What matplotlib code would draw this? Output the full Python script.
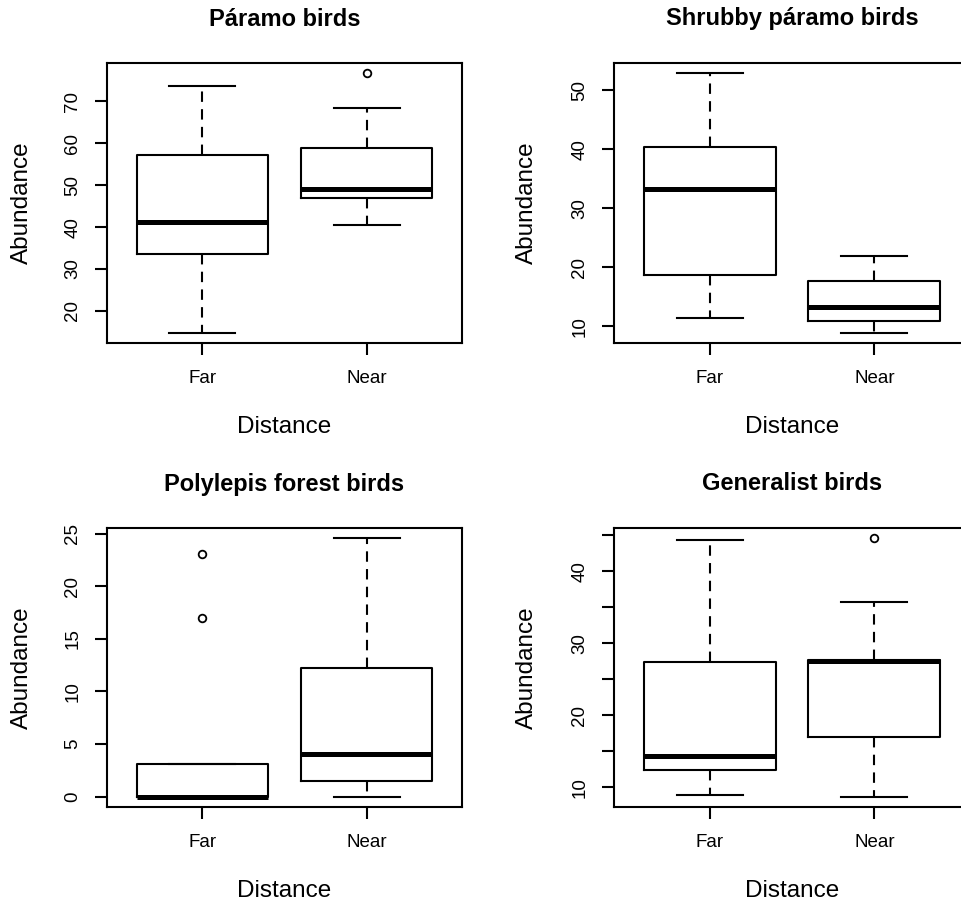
import matplotlib
matplotlib.use("Agg")
import matplotlib.pyplot as plt

plt.rcParams['font.family'] = ['Liberation Sans', 'DejaVu Sans']

groups = ["Far", "Near"]
titles = ["Páramo birds", "Shrubby páramo birds", "Polylepis forest birds", "Generalist birds"]

# five-number summaries per panel: [whislo, q1, med, q3, whishi]
paramo_far = [14.8, 33.5, 41.3, 57.3, 73.7]
paramo_near = [40.5, 46.9, 49.1, 58.9, 68.4]
paramo_fliers = [[], [76.7]]

shrub_far = [11.3, 18.7, 33.3, 40.4, 52.9]
shrub_near = [8.9, 10.8, 13.2, 17.7, 21.9]
shrub_fliers = [[], []]

poly_far = [0.0, 0.0, 0.0, 3.1, 3.1]
poly_near = [0.0, 1.45, 4.1, 12.2, 24.55]
poly_fliers = [[23.1, 17.0], []]

gen_far = [8.9, 12.35, 14.4, 27.45, 44.4]
gen_near = [8.7, 16.95, 27.5, 27.75, 35.7]
gen_fliers = [[], [44.6]]

yticks = [
    [20, 30, 40, 50, 60, 70],
    [10, 20, 30, 40, 50],
    [0, 5, 10, 15, 20, 25],
    [10, 15, 20, 25, 30, 35, 40, 45],
]
ytick_labels = [
    ["20", "30", "40", "50", "60", "70"],
    ["10", "20", "30", "40", "50"],
    ["0", "5", "10", "15", "20", "25"],
    ["10", "", "20", "", "30", "", "40", ""],
]

panels = [
    (paramo_far, paramo_near, paramo_fliers),
    (shrub_far, shrub_near, shrub_fliers),
    (poly_far, poly_near, poly_fliers),
    (gen_far, gen_near, gen_fliers),
]

W, H = 961, 909
fig = plt.figure(figsize=(W / 100, H / 100), dpi=100)

# axes boxes in pixels: left, right, top, bottom
boxes_px = [
    (107, 462, 63, 343),
    (614, 970, 63, 343),
    (107, 462, 528, 807),
    (614, 970, 528, 807),
]

lw = 1.5
for i, ((far, near, fl), (l, r, t, b)) in enumerate(zip(panels, boxes_px)):
    ax = fig.add_axes([l / W, 1 - b / H, (r - l) / W, (b - t) / H])
    stats = []
    for name, s, f in zip(groups, (far, near), fl):
        stats.append(dict(label=name, whislo=s[0], q1=s[1], med=s[2], q3=s[3], whishi=s[4], fliers=f))
    ax.bxp(stats, positions=[1, 2], widths=0.8, showfliers=True,
           boxprops=dict(color='black', linewidth=lw),
           medianprops=dict(color='black', linewidth=3.6, solid_capstyle='butt'),
           whiskerprops=dict(color='black', linewidth=lw, linestyle=(0, (5, 3.5))),
           capprops=dict(color='black', linewidth=lw),
           capwidths=0.4,
           flierprops=dict(marker='o', markerfacecolor='none', markeredgecolor='black',
                           markersize=5.5, markeredgewidth=1.3))
    ax.set_xlim(0.42, 2.58)
    ax.margins(y=0.04)
    ax.set_yticks(yticks[i], ytick_labels[i])
    ax.set_xticks([1, 2], groups)
    for sp in ax.spines.values():
        sp.set_linewidth(1.5)
    ax.tick_params(axis='both', length=8.6, width=1.5, labelsize=13.5, pad=10)
    ax.tick_params(axis='x', pad=11)
    for lab in ax.get_yticklabels():
        lab.set_rotation(90)
        lab.set_va('center')
    ax.set_title(titles[i], fontsize=17, fontweight='bold', pad=27)
    ax.set_xlabel("Distance", fontsize=17.5)
    ax.set_ylabel("Abundance", fontsize=17.5)
    ax.xaxis.set_label_coords(0.5, -84 / (b - t))
    ax.xaxis.label.set_va('center')
    ax.yaxis.set_label_coords(-(l - (22 if l < 300 else 527)) / (r - l), 0.5)
    ax.yaxis.label.set_va('center')

fig.savefig("out.png", dpi=100)
